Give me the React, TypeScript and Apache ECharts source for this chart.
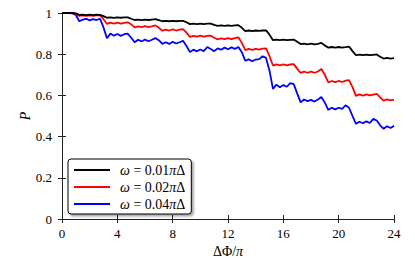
import React, { useEffect, useRef } from "react";
import * as echarts from "echarts";

const xValues = [
  0, 0.25, 0.5, 0.75, 1, 1.25, 1.5, 1.75, 2, 2.25, 2.5, 2.75,
  3, 3.25, 3.5, 3.75, 4, 4.25, 4.5, 4.75, 5, 5.25, 5.5, 5.75,
  6, 6.25, 6.5, 6.75, 7, 7.25, 7.5, 7.75, 8, 8.25, 8.5, 8.75,
  9, 9.25, 9.5, 9.75, 10, 10.25, 10.5, 10.75, 11, 11.25, 11.5, 11.75,
  12, 12.25, 12.5, 12.75, 13, 13.25, 13.5, 13.75, 14, 14.25, 14.5, 14.75,
  15, 15.25, 15.5, 15.75, 16, 16.25, 16.5, 16.75, 17, 17.25, 17.5, 17.75,
  18, 18.25, 18.5, 18.75, 19, 19.25, 19.5, 19.75, 20, 20.25, 20.5, 20.75,
  21, 21.25, 21.5, 21.75, 22, 22.25, 22.5, 22.75, 23, 23.25, 23.5, 23.75, 24,
];

const pOmega001 = [
  1.0, 1.0, 1.0, 1.0, 0.998, 0.991, 0.992, 0.99, 0.992, 0.99, 0.992, 0.991,
  0.985, 0.977, 0.979, 0.976, 0.979, 0.977, 0.979, 0.979, 0.972, 0.966, 0.968, 0.965,
  0.968, 0.966, 0.968, 0.97, 0.965, 0.96, 0.962, 0.96, 0.962, 0.96, 0.962, 0.962,
  0.955, 0.946, 0.948, 0.946, 0.948, 0.946, 0.948, 0.948, 0.942, 0.938, 0.94, 0.938,
  0.94, 0.938, 0.94, 0.941, 0.928, 0.912, 0.915, 0.912, 0.915, 0.913, 0.915, 0.916,
  0.895, 0.868, 0.871, 0.868, 0.871, 0.868, 0.87, 0.871, 0.86, 0.849, 0.851, 0.848,
  0.851, 0.848, 0.85, 0.855, 0.842, 0.832, 0.835, 0.832, 0.835, 0.832, 0.834, 0.837,
  0.815, 0.795, 0.798, 0.795, 0.798, 0.795, 0.797, 0.799, 0.788, 0.779, 0.782, 0.779, 0.781,
];

const pOmega002 = [
  1.0, 1.0, 1.0, 0.999, 0.995, 0.986, 0.989, 0.986, 0.989, 0.986, 0.988, 0.99,
  0.97, 0.947, 0.953, 0.948, 0.953, 0.948, 0.952, 0.955, 0.945, 0.93, 0.935, 0.931,
  0.936, 0.931, 0.935, 0.94, 0.928, 0.914, 0.919, 0.915, 0.92, 0.915, 0.919, 0.922,
  0.905, 0.884, 0.889, 0.885, 0.89, 0.885, 0.889, 0.89, 0.88, 0.872, 0.877, 0.873,
  0.878, 0.873, 0.878, 0.882, 0.855, 0.82, 0.826, 0.821, 0.826, 0.822, 0.827, 0.828,
  0.79, 0.745, 0.751, 0.746, 0.751, 0.746, 0.75, 0.752, 0.73, 0.709, 0.715, 0.71,
  0.715, 0.71, 0.716, 0.728, 0.7, 0.663, 0.67, 0.664, 0.67, 0.665, 0.672, 0.674,
  0.64, 0.598, 0.605, 0.599, 0.605, 0.6, 0.604, 0.608, 0.59, 0.575, 0.581, 0.576, 0.58,
];

const pOmega004 = [
  1.0, 1.0, 0.999, 0.998, 0.99, 0.96, 0.968, 0.972, 0.964, 0.97, 0.966, 0.972,
  0.93, 0.877, 0.9, 0.89, 0.898, 0.889, 0.897, 0.9, 0.88, 0.858, 0.87, 0.862,
  0.871, 0.863, 0.87, 0.878, 0.868, 0.85, 0.858, 0.85, 0.86, 0.852, 0.858, 0.865,
  0.84, 0.81, 0.822, 0.814, 0.823, 0.815, 0.835, 0.825, 0.815, 0.828, 0.822, 0.832,
  0.824, 0.833, 0.826, 0.835, 0.81, 0.768, 0.775, 0.766, 0.774, 0.776, 0.79, 0.782,
  0.72, 0.632, 0.652, 0.64, 0.65, 0.642, 0.66, 0.655, 0.61, 0.566, 0.58, 0.572,
  0.578, 0.57, 0.58, 0.592, 0.565, 0.53, 0.54, 0.532, 0.54, 0.535, 0.552, 0.54,
  0.5, 0.462, 0.472, 0.465, 0.474, 0.466, 0.486, 0.478, 0.455, 0.438, 0.45, 0.442, 0.452,
];

const seriesNames = ["ω = 0.01πΔ", "ω = 0.02πΔ", "ω = 0.04πΔ"];
const seriesColors = ["#000000", "#ff0000", "#0000ff"];
const seriesValues = [pOmega001, pOmega002, pOmega004];

const FONT = "'Liberation Serif', serif";

export default function App() {
  const ref = useRef<HTMLDivElement>(null);
  useEffect(() => {
    if (!ref.current) return;
    const chart = echarts.init(ref.current, null, { renderer: "svg" });
    const axisLine = { show: true, lineStyle: { color: "#222", width: 1 } };
    const axisTick = { show: true, inside: true, length: 4, lineStyle: { color: "#222", width: 1 } };
    chart.setOption({
      animation: false,
      backgroundColor: "#ffffff",
      grid: { left: 62, right: 21, top: 13, bottom: 39, containLabel: false, outerBoundsMode: "none" },
      legend: {
        orient: "vertical",
        left: 68,
        top: 159,
        icon: "rect",
        itemWidth: 36,
        itemHeight: 2,
        itemGap: 3,
        padding: [4, 6, 3, 6],
        backgroundColor: "#ffffff",
        borderColor: "#000000",
        borderWidth: 1,
        borderRadius: 3,
        shadowColor: "rgba(0,0,0,0.35)",
        shadowBlur: 2,
        shadowOffsetX: 2,
        shadowOffsetY: 2,
        data: seriesNames,
        formatter: (name: string) =>
          name.replace("ω", "{i|ω}").replace("π", "{i|π}"),
        textStyle: {
          fontFamily: FONT,
          fontSize: 14,
          color: "#000",
          padding: [0, 0, 0, 5],
          rich: {
            i: { fontFamily: FONT, fontStyle: "italic", fontSize: 14, color: "#000" },
          },
        },
      },
      xAxis: [
        {
          type: "value",
          min: 0,
          max: 24,
          interval: 4,
          name: "ΔΦ/{i|π}",
          nameLocation: "middle",
          nameGap: 19,
          nameTextStyle: {
            fontFamily: FONT,
            fontSize: 14,
            color: "#000",
            rich: { i: { fontFamily: FONT, fontStyle: "italic", fontSize: 14, color: "#000" } },
          },
          axisLine,
          axisTick,
          splitLine: { show: false },
          axisLabel: { fontFamily: FONT, fontSize: 13, color: "#000", margin: 8 },
        },
        {
          type: "value",
          position: "top",
          min: 0,
          max: 24,
          interval: 4,
          axisLine,
          axisTick,
          splitLine: { show: false },
          axisLabel: { show: false },
        },
      ],
      yAxis: [
        {
          type: "value",
          min: 0,
          max: 1,
          interval: 0.2,
          name: "P",
          nameLocation: "middle",
          nameGap: 30,
          nameMoveOverlap: false,
          nameTextStyle: {
            fontFamily: FONT,
            fontStyle: "italic",
            fontSize: 14,
            color: "#000",
          },
          axisLine,
          axisTick,
          splitLine: { show: false },
          axisLabel: {
            fontFamily: FONT,
            fontSize: 13,
            color: "#000",
            margin: 10,
            formatter: (v: number) => String(Number(v.toFixed(1))),
          },
        },
        {
          type: "value",
          position: "right",
          min: 0,
          max: 1,
          interval: 0.2,
          axisLine,
          axisTick,
          splitLine: { show: false },
          axisLabel: { show: false },
        },
      ],
      series: seriesValues.map((vals, k) => ({
        type: "line",
        name: seriesNames[k],
        xAxisIndex: 0,
        yAxisIndex: 0,
        symbol: "none",
        showSymbol: false,
        color: seriesColors[k],
        lineStyle: { color: seriesColors[k], width: 1.8 },
        data: xValues.map((x, i) => [x, vals[i]]),
        z: 3 - k,
      })),
    });
    return () => chart.dispose();
  }, []);
  return (
    <div
      ref={ref}
      style={{ position: "fixed", left: 0, top: 0, width: 415, height: 258, background: "#fff" }}
    />
  );
}
